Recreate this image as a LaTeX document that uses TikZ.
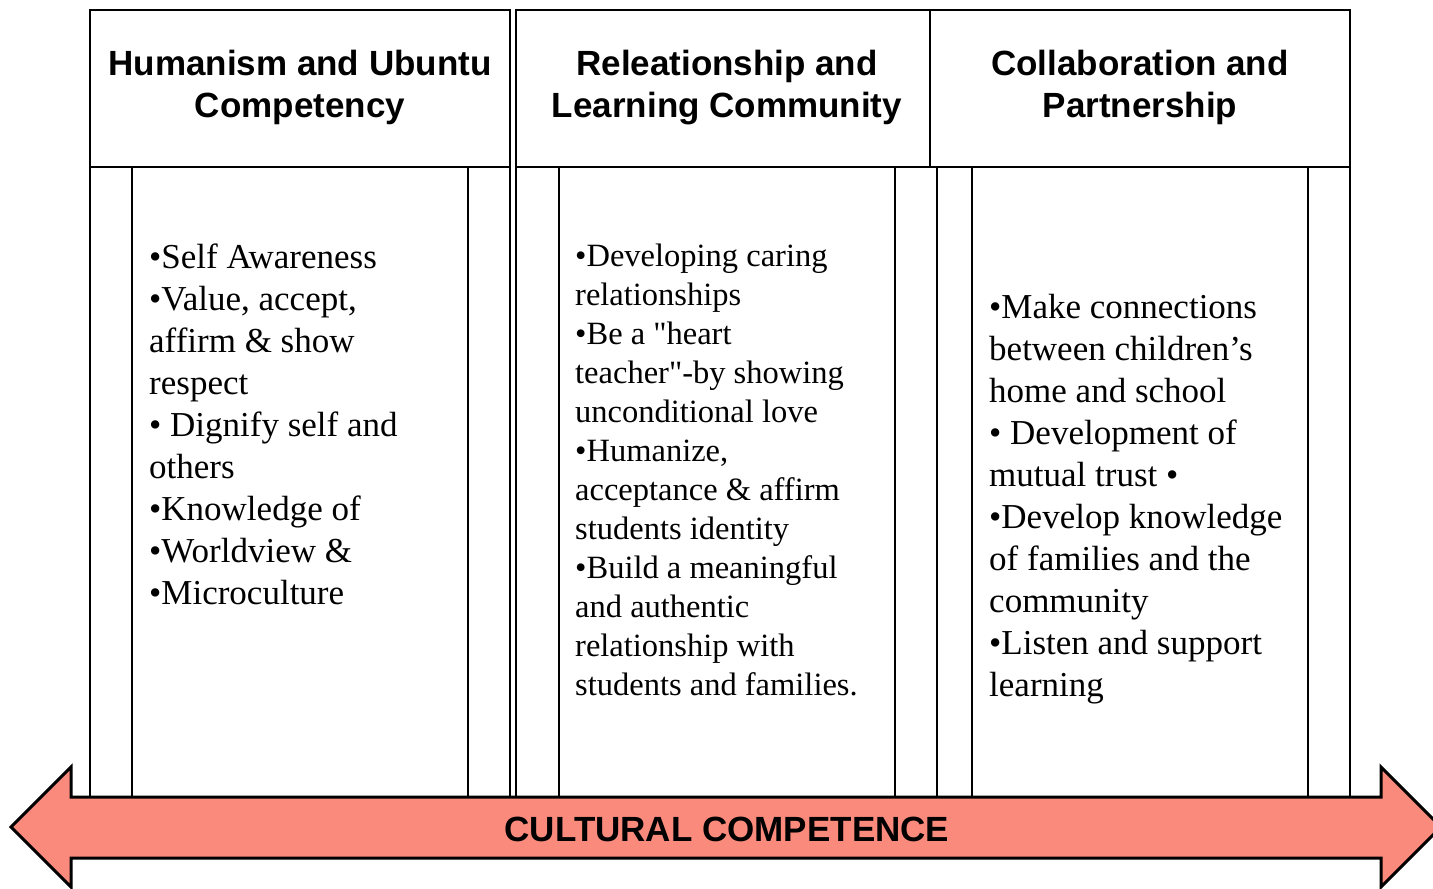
\documentclass[tikz,border=0pt]{standalone}
\usepackage{fontspec}
\setmainfont{Liberation Serif}[Ligatures=TeXOff]
\newfontfamily\headfont{Liberation Sans}
\definecolor{salmon}{RGB}{250,138,124}
\tikzset{
  frame/.style={draw=black, line width=1.6pt},
  headtxt/.style={font=\headfont\bfseries\fontsize{35}{42}\selectfont, inner sep=0pt, anchor=base},
  bodytxt/.style={font=\fontsize{35}{42}\selectfont, inner sep=0pt, anchor=base west},
  bodytxtb/.style={font=\fontsize{32.5}{39}\selectfont, inner sep=0pt, anchor=base west},
  bigarrow/.style={fill=salmon, draw=black, line width=3pt, line join=miter}
}
\begin{document}
\begin{tikzpicture}[x=1pt,y=-1pt]
\useasboundingbox (0,0) rectangle (1433,889);
\fill[white] (0,0) rectangle (1433,889);
% header boxes
\draw[frame] (90,10) rectangle (510,167);
\draw[frame] (516,10) rectangle (930,167);
\draw[frame] (930,10) rectangle (1350,167);
% panels
\draw[frame] (90,167) rectangle (510,797);
\draw[frame] (516,167) rectangle (937,797);
\draw[frame] (937,167) rectangle (1350,797);
\foreach \x in {132,468,559,895,972,1308} \draw[frame] (\x,167) -- (\x,797);
% headers
\node[headtxt] (h1a) at (300,75) {Humanism and Ubuntu};
\node[headtxt] (h1b) at (300,117) {Competency};
\node[headtxt] (h2a) at (727,75) {Releationship and};
\node[headtxt] (h2b) at (727,117) {Learning Community};
\node[headtxt] (h3a) at (1140,75) {Collaboration and};
\node[headtxt] (h3b) at (1140,117) {Partnership};
% column 1
\foreach \t [count=\i] in {{•Self Awareness},{•Value, accept,},{affirm \& show},{respect},{• Dignify self and},{others},{•Knowledge of},{•Worldview \&},{•Microculture}}
  \node[bodytxt, name=a\i] at (149,{268+42*(\i-1)}) {\t};
% column 2
\foreach \t [count=\i] in {{•Developing caring},{relationships},{•Be a "heart},{teacher"-by showing},{unconditional love},{•Humanize,},{acceptance \& affirm},{students identity},{•Build a meaningful},{and authentic},{relationship with},{students and families.}}
  \node[bodytxtb, name=b\i] at (575,{266+39*(\i-1)}) {\t};
% column 3
\foreach \t [count=\i] in {{•Make connections},{between children’s},{home and school},{• Development of},{mutual trust •},{•Develop knowledge},{of families and the},{community},{•Listen and support},{learning}}
  \node[bodytxt, name=c\i] at (989,{318+42*(\i-1)}) {\t};
% arrow
\draw[bigarrow] (11,827) -- (71,767) -- (71,797) -- (1381,797) -- (1381,767) -- (1441,827) -- (1381,887) -- (1381,858) -- (71,858) -- (71,887) -- cycle;
\node[headtxt, font=\headfont\bfseries\fontsize{35}{40}\selectfont] (cc) at (727,841) {CULTURAL COMPETENCE};
\end{tikzpicture}
\end{document}
